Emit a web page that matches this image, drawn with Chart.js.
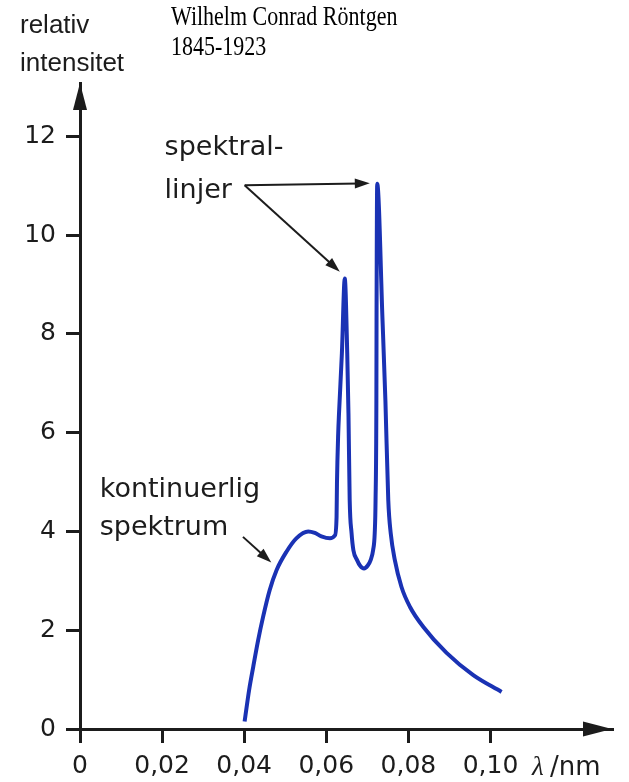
<!DOCTYPE html>
<html>
<head>
<meta charset="utf-8">
<script src="https://cdn.jsdelivr.net/npm/chart.js@4.4.1/dist/chart.umd.min.js"></script>
<style>
  html, body { margin: 0; padding: 0; background: #fff; }
  #wrap { width: 629px; height: 782px; position: relative; }
</style>
</head>
<body>
<div id="wrap"><canvas id="spectrum"></canvas></div>
<script>
// x-ray spectrum: wavelength in nm, relative intensity
const wavelength = [
  0.0401, 0.0412, 0.0422, 0.0434, 0.0446, 0.0462, 0.0479, 0.0503, 0.0527,
  0.0556, 0.0572, 0.0588, 0.0609, 0.0621, 0.0625, 0.0626, 0.0629, 0.0631,
  0.0638, 0.0645, 0.0651, 0.0654, 0.0657, 0.06615, 0.0666, 0.0675,
  0.0682, 0.0692, 0.0701, 0.0708, 0.0714, 0.0718, 0.0720, 0.0722, 0.07224,
  0.0724, 0.0737, 0.0744, 0.0751, 0.0757, 0.0767, 0.0783, 0.0804, 0.0836,
  0.0893, 0.0958, 0.1027
];
const intensity = [
  0.15, 0.79, 1.26, 1.80, 2.27, 2.81, 3.22, 3.59, 3.86,
  4.00, 3.97, 3.90, 3.86, 3.92, 4.29, 4.97, 5.98, 6.39,
  7.61, 9.12, 7.61, 6.39, 4.63, 3.97, 3.62, 3.42,
  3.31, 3.25, 3.31, 3.42, 3.62, 3.97, 4.63, 6.65, 8.27,
  11.04, 8.27, 6.65, 4.63, 3.96, 3.42, 2.88, 2.47, 2.07,
  1.54, 1.09, 0.75
];
const xTicks = [0, 0.02, 0.04, 0.06, 0.08, 0.10];
const yTicks = [0, 2, 4, 6, 8, 10, 12];

const X_MAX = 0.1296;
const Y_MAX = 13.08;
const INK = '#1c1c1c';
const BLUE = '#1a32b4';
const SANS = '"DejaVu Sans", sans-serif';

// callout arrows (data units): [fromX, fromY, toX, toY]
const callouts = [
  [0.0401, 11.01, 0.0706, 11.05],
  [0.0401, 11.01, 0.0633, 9.26],
  [0.0397, 3.89, 0.0466, 3.37]
];
// text labels (data units, left/baseline)
const notes = [
  { text: 'spektral-', x: 0.0206, y: 11.62 },
  { text: 'linjer', x: 0.0206, y: 10.75 },
  { text: 'kontinuerlig', x: 0.0048, y: 4.70 },
  { text: 'spektrum', x: 0.0048, y: 3.93 }
];

function arrowHead(ctx, x1, y1, x2, y2, len, half) {
  const a = Math.atan2(y2 - y1, x2 - x1);
  ctx.beginPath();
  ctx.moveTo(x2, y2);
  ctx.lineTo(x2 - len * Math.cos(a) + half * Math.sin(a), y2 - len * Math.sin(a) - half * Math.cos(a));
  ctx.lineTo(x2 - len * Math.cos(a) - half * Math.sin(a), y2 - len * Math.sin(a) + half * Math.cos(a));
  ctx.closePath();
  ctx.fill();
}

const decorations = {
  id: 'decorations',
  afterDraw(chart) {
    const { ctx, chartArea: area, scales: { x, y } } = chart;
    ctx.save();
    ctx.fillStyle = INK;
    ctx.strokeStyle = INK;

    // axis arrow heads
    arrowHead(ctx, area.left, area.bottom, area.left, area.top, 27, 7);
    arrowHead(ctx, area.left, area.bottom, area.right, area.bottom, 29, 7.5);

    // callouts
    ctx.lineWidth = 2;
    callouts.forEach(([fx, fy, tx, ty]) => {
      const x1 = x.getPixelForValue(fx), y1 = y.getPixelForValue(fy);
      const x2 = x.getPixelForValue(tx), y2 = y.getPixelForValue(ty);
      const a = Math.atan2(y2 - y1, x2 - x1);
      ctx.beginPath();
      ctx.moveTo(x1, y1);
      ctx.lineTo(x2 - 10 * Math.cos(a), y2 - 10 * Math.sin(a));
      ctx.stroke();
      arrowHead(ctx, x1, y1, x2, y2, 15, 5);
    });

    ctx.textBaseline = 'alphabetic';
    ctx.textAlign = 'left';
    ctx.font = '27px ' + SANS;
    notes.forEach(n => {
      ctx.fillText(n.text, x.getPixelForValue(n.x), y.getPixelForValue(n.y));
    });

    // axis titles
    ctx.font = '26px "Liberation Sans", Arial, sans-serif';
    ctx.fillText('relativ', 20, 33);
    ctx.fillText('intensitet', 20, 71);

    ctx.font = 'italic 27px "Liberation Serif", serif';
    ctx.fillText('λ', 532, 775);
    ctx.font = '26px ' + SANS;
    ctx.fillText('/nm', 550, 775);

    // heading, set a little tall
    ctx.font = '22px "Liberation Serif", "Times New Roman", serif';
    ctx.fillStyle = '#000';
    [['Wilhelm Conrad Röntgen', 25], ['1845-1923', 55]].forEach(([t, base]) => {
      ctx.save();
      ctx.translate(171, base);
      ctx.scale(1, 1.2);
      ctx.fillText(t, 0, 0);
      ctx.restore();
    });
    ctx.restore();
  }
};

const axisStyle = {
  border: { display: true, color: INK, width: 3 },
  grid: { drawOnChartArea: false, drawTicks: true, tickLength: 14, color: INK, lineWidth: 3 }
};

new Chart(document.getElementById('spectrum'), {
  type: 'line',
  data: {
    datasets: [{
      data: wavelength.map((w, i) => ({ x: w, y: intensity[i] })),
      borderColor: BLUE,
      borderWidth: 4,
      pointRadius: 0,
      fill: false,
      cubicInterpolationMode: 'monotone'
    }]
  },
  options: {
    responsive: true,
    maintainAspectRatio: false,
    animation: false,
    layout: { padding: { top: 83, right: 17, left: 0, bottom: 0 } },
    plugins: { legend: { display: false }, tooltip: { enabled: false } },
    scales: {
      x: {
        type: 'linear',
        min: 0,
        max: X_MAX,
        ...axisStyle,
        afterBuildTicks: s => { s.ticks = xTicks.map(v => ({ value: v })); },
        afterFit: s => { s.height = 53; },
        ticks: {
          color: INK,
          padding: 8,
          maxRotation: 0,
          font: { family: SANS, size: 25 },
          callback: v => v === 0 ? '0' : v.toFixed(2).replace('.', ',')
        }
      },
      y: {
        min: 0,
        max: Y_MAX,
        ...axisStyle,
        afterBuildTicks: s => { s.ticks = yTicks.map(v => ({ value: v })); },
        afterFit: s => { s.width = 80; },
        ticks: {
          color: INK,
          padding: 10,
          font: { family: SANS, size: 25 },
          callback: v => String(v)
        }
      }
    }
  },
  plugins: [decorations]
});
</script>
</body>
</html>
